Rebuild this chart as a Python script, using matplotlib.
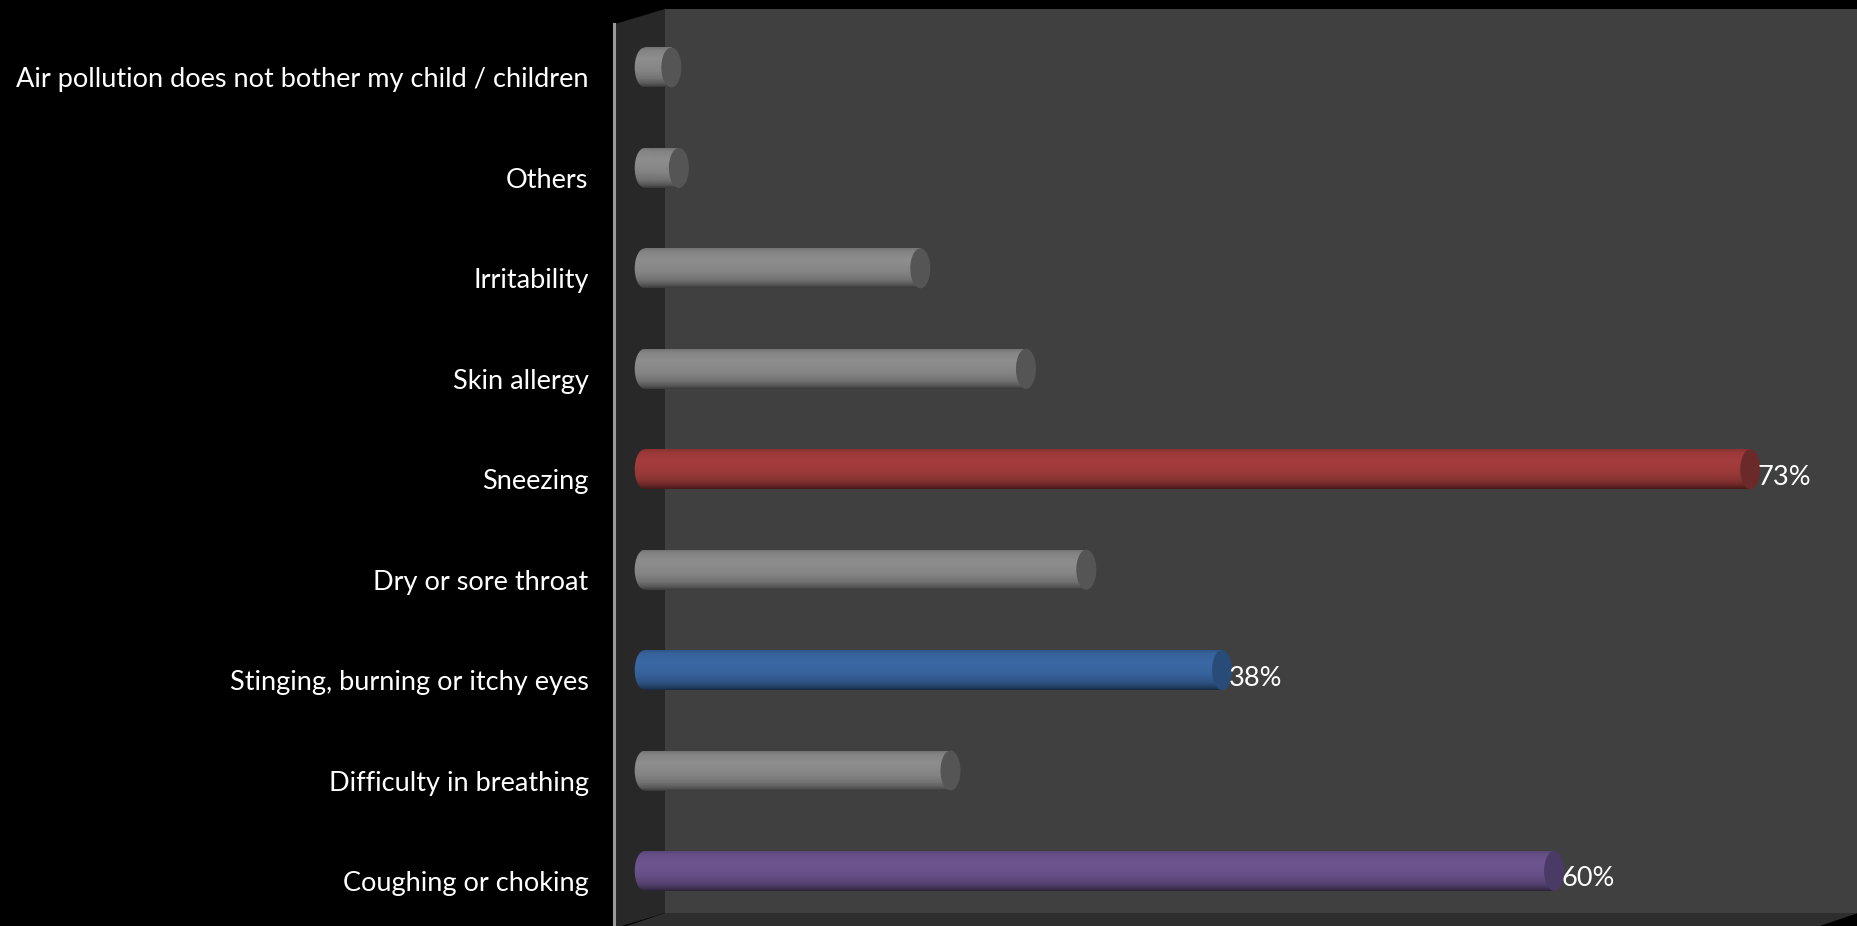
import numpy as np
import matplotlib.pyplot as plt
from matplotlib.patches import Polygon, Ellipse, Rectangle
from matplotlib.colors import to_rgb

# survey answers, bottom to top
symptoms = [
    "Coughing or choking",
    "Difficulty in breathing",
    "Stinging, burning or itchy eyes",
    "Dry or sore throat",
    "Sneezing",
    "Skin allergy",
    "Irritability",
    "Others",
    "Air pollution does not bother my child / children",
]
share = [60, 20, 38, 29, 73, 25, 18, 2, 1.5]
labelled = ["60%", None, "38%", None, "73%", None, None, None, None]
body_colors = ["#6e5590", "#8e8e8e", "#3b69a6", "#8e8e8e", "#a63d3d",
               "#8e8e8e", "#8e8e8e", "#8e8e8e", "#8e8e8e"]
cap_colors = ["#4a3a66", "#555555", "#284b77", "#555555", "#6b2a2a",
              "#555555", "#555555", "#555555", "#555555"]

W, H = 1858, 926
fig = plt.figure(figsize=(W / 100, H / 100), dpi=100, facecolor="black")


def fpt(x, y):
    # pixel position (from top-left) -> figure fraction
    return (x / W, 1 - y / H)


# chart walls: back, side and floor
walls = [
    ([(665, 9), (1858, 9), (1858, 913), (665, 913)], "#404040"),
    ([(615, 24), (665, 9), (665, 913), (615, 928)], "#282828"),
    ([(665, 913), (1858, 913), (1808, 930), (615, 930)], "#2e2e2e"),
]
for pts, col in walls:
    fig.patches.append(Polygon([fpt(*p) for p in pts], closed=True,
                               transform=fig.transFigure, facecolor=col,
                               edgecolor="none", zorder=-2))
axis_line = plt.Line2D([614 / W, 614 / W], [1 - 24 / H, 0],
                       transform=fig.transFigure, color="#9a9a9a", lw=2.2,
                       zorder=-1)
fig.add_artist(axis_line)

ax = fig.add_axes([615 / W, 0, (W - 615) / W, 1])
ax.patch.set_visible(False)

px_per_pct = 15.09
zero_px = 648.7
row_px = 100.44
bottom_row_px = 55  # from figure bottom

bar_h = 40 / row_px
cap_w = 20 / px_per_pct
base_x = -4 / px_per_pct  # cylinders start just inside the side wall

# vertical shading profile of the cylinders (top -> bottom)
t = np.linspace(0, 1, 64)
prof = np.interp(t, [0, 0.08, 0.3, 0.6, 0.8, 0.92, 1.0],
                 [0.82, 0.93, 1.0, 0.93, 0.8, 0.62, 0.42])

for i, (v, bc, cc) in enumerate(zip(share, body_colors, cap_colors)):
    base = np.array(to_rgb(bc))
    grad = np.clip(prof[:, None] * base[None, :], 0, 1)[:, None, :]
    y0, y1 = i - bar_h / 2, i + bar_h / 2
    body = Rectangle((base_x, y0), v - base_x, bar_h, transform=ax.transData)
    left_end = Ellipse((base_x, i), cap_w, bar_h, transform=ax.transData)
    for clip in (body, left_end):
        im = ax.imshow(grad, extent=(base_x - cap_w, v, y0, y1),
                       aspect="auto", origin="upper",
                       interpolation="bilinear", zorder=2)
        im.set_clip_path(clip)
    ax.add_patch(Ellipse((v, i), cap_w, bar_h, facecolor=cc,
                         edgecolor="none", zorder=3))
    if labelled[i]:
        ax.text(v + cap_w / 2 - 0.2, i - 8 / row_px, labelled[i],
                color="white", fontsize=19.5, fontfamily="Lato",
                va="center", ha="left", zorder=4)

ax.set_xlim((615 - zero_px) / px_per_pct, (W - zero_px) / px_per_pct)
ax.set_ylim(-bottom_row_px / row_px, (H - bottom_row_px) / row_px)
# category names sit slightly below the bar centres
ax.set_yticks(np.arange(len(symptoms)) - 10 / row_px)
ax.set_yticklabels(symptoms, color="white", fontsize=19.5, fontfamily="Lato")
ax.tick_params(axis="y", length=0, pad=19)
ax.set_xticks([])
for s in ax.spines.values():
    s.set_visible(False)

fig.savefig("out.png", dpi=100, facecolor="black")
